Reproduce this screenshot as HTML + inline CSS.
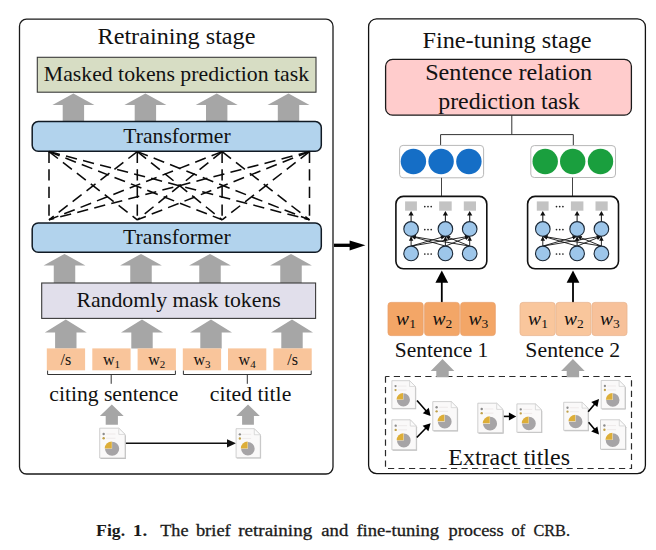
<!DOCTYPE html>
<html><head><meta charset="utf-8"><style>
html,body{margin:0;padding:0;background:#fff;}
svg{display:block;font-family:"Liberation Serif",serif;}
</style></head><body>
<svg width="656" height="550" viewBox="0 0 656 550">
<defs><symbol id="doc" viewBox="0 0 26 31" overflow="visible">
<path d="M1.3,1.3 H19.6 L26.3,8.0 V31.1 H1.3 Z" fill="#a9a9a9" opacity="0.75"/>
<path d="M0.5,0.5 H19.3 L25.5,6.7 V30.2 H0.5 Z" fill="#FAF9F9" stroke="#c4c4c4" stroke-width="0.8"/>
<path d="M19.3,0.5 V6.7 H25.5 Z" fill="#fbfbfb" stroke="#cdcdcd" stroke-width="0.7"/>
<circle cx="4.4" cy="6.3" r="1.2" fill="#8c8c8c"/>
<circle cx="4.4" cy="10.5" r="1.2" fill="#BFA04a"/>
<line x1="7" y1="6.3" x2="16" y2="6.3" stroke="#ebe6e6" stroke-width="0.8"/>
<line x1="7" y1="10.5" x2="16" y2="10.5" stroke="#ebe6e6" stroke-width="0.8"/>
<path d="M12.7,21.0 L12.7,14.0 A7,7 0 1 1 5.7,21.0 Z" fill="#A6A4A6"/>
<path d="M12.4,20.7 L5.4,20.7 A7,7 0 0 1 12.4,13.7 Z" fill="#DDAE38"/>
</symbol></defs>
<rect width="656" height="550" fill="#fff"/>
<rect x="19.50" y="19.20" width="313.50" height="454.80" rx="7" fill="none" stroke="#1a1a1a" stroke-width="1.3" />
<rect x="368.60" y="18.80" width="276.80" height="454.80" rx="8" fill="none" stroke="#111" stroke-width="1.3" />
<rect x="37.30" y="57.30" width="278.70" height="34.90" rx="0" fill="#D7DDC4" stroke="#3a3a3a" stroke-width="1.1" />
<polygon points="73.40,93.40 94.40,104.90 84.10,104.90 84.10,121.80 62.70,121.80 62.70,104.90 52.40,104.90" fill="#A6A6A6" />
<polygon points="145.40,93.40 166.40,104.90 156.10,104.90 156.10,121.80 134.70,121.80 134.70,104.90 124.40,104.90" fill="#A6A6A6" />
<polygon points="216.70,93.40 237.70,104.90 227.40,104.90 227.40,121.80 206.00,121.80 206.00,104.90 195.70,104.90" fill="#A6A6A6" />
<polygon points="288.50,93.40 309.50,104.90 299.20,104.90 299.20,121.80 277.80,121.80 277.80,104.90 267.50,104.90" fill="#A6A6A6" />
<rect x="32.20" y="121.60" width="289.10" height="29.60" rx="6" fill="#B2D3ED" stroke="#111a24" stroke-width="1.5" />
<rect x="32.20" y="222.90" width="289.10" height="29.40" rx="6" fill="#B2D3ED" stroke="#111a24" stroke-width="1.5" />
<line x1="49.00" y1="151.60" x2="49.00" y2="219.80" stroke="#0a0a0a" stroke-width="1.55" stroke-dasharray="11.3 6.3"/>
<line x1="49.00" y1="151.60" x2="137.30" y2="219.80" stroke="#0a0a0a" stroke-width="1.55" stroke-dasharray="11.3 6.3"/>
<line x1="49.00" y1="151.60" x2="222.10" y2="219.80" stroke="#0a0a0a" stroke-width="1.55" stroke-dasharray="11.3 6.3"/>
<line x1="49.00" y1="151.60" x2="309.50" y2="219.80" stroke="#0a0a0a" stroke-width="1.55" stroke-dasharray="11.3 6.3"/>
<line x1="137.30" y1="151.60" x2="49.00" y2="219.80" stroke="#0a0a0a" stroke-width="1.55" stroke-dasharray="11.3 6.3"/>
<line x1="137.30" y1="151.60" x2="137.30" y2="219.80" stroke="#0a0a0a" stroke-width="1.55" stroke-dasharray="11.3 6.3"/>
<line x1="137.30" y1="151.60" x2="222.10" y2="219.80" stroke="#0a0a0a" stroke-width="1.55" stroke-dasharray="11.3 6.3"/>
<line x1="137.30" y1="151.60" x2="309.50" y2="219.80" stroke="#0a0a0a" stroke-width="1.55" stroke-dasharray="11.3 6.3"/>
<line x1="222.10" y1="151.60" x2="49.00" y2="219.80" stroke="#0a0a0a" stroke-width="1.55" stroke-dasharray="11.3 6.3"/>
<line x1="222.10" y1="151.60" x2="137.30" y2="219.80" stroke="#0a0a0a" stroke-width="1.55" stroke-dasharray="11.3 6.3"/>
<line x1="222.10" y1="151.60" x2="222.10" y2="219.80" stroke="#0a0a0a" stroke-width="1.55" stroke-dasharray="11.3 6.3"/>
<line x1="222.10" y1="151.60" x2="309.50" y2="219.80" stroke="#0a0a0a" stroke-width="1.55" stroke-dasharray="11.3 6.3"/>
<line x1="309.50" y1="151.60" x2="49.00" y2="219.80" stroke="#0a0a0a" stroke-width="1.55" stroke-dasharray="11.3 6.3"/>
<line x1="309.50" y1="151.60" x2="137.30" y2="219.80" stroke="#0a0a0a" stroke-width="1.55" stroke-dasharray="11.3 6.3"/>
<line x1="309.50" y1="151.60" x2="222.10" y2="219.80" stroke="#0a0a0a" stroke-width="1.55" stroke-dasharray="11.3 6.3"/>
<line x1="309.50" y1="151.60" x2="309.50" y2="219.80" stroke="#0a0a0a" stroke-width="1.55" stroke-dasharray="11.3 6.3"/>
<polygon points="64.50,253.90 85.40,265.60 75.25,265.60 75.25,283.40 53.75,283.40 53.75,265.60 43.60,265.60" fill="#A6A6A6" />
<polygon points="141.00,253.90 161.90,265.60 151.75,265.60 151.75,283.40 130.25,283.40 130.25,265.60 120.10,265.60" fill="#A6A6A6" />
<polygon points="210.00,253.90 230.90,265.60 220.75,265.60 220.75,283.40 199.25,283.40 199.25,265.60 189.10,265.60" fill="#A6A6A6" />
<polygon points="291.00,253.90 311.90,265.60 301.75,265.60 301.75,283.40 280.25,283.40 280.25,265.60 270.10,265.60" fill="#A6A6A6" />
<rect x="41.70" y="283.00" width="273.90" height="35.40" rx="0" fill="#E1DFEB" stroke="#3a3a3a" stroke-width="1.1" />
<polygon points="65.80,319.60 86.80,332.40 76.50,332.40 76.50,348.60 55.10,348.60 55.10,332.40 44.80,332.40" fill="#A6A6A6" />
<polygon points="142.00,319.60 163.00,332.40 152.70,332.40 152.70,348.60 131.30,348.60 131.30,332.40 121.00,332.40" fill="#A6A6A6" />
<polygon points="211.00,319.60 232.00,332.40 221.70,332.40 221.70,348.60 200.30,348.60 200.30,332.40 190.00,332.40" fill="#A6A6A6" />
<polygon points="292.00,319.60 313.00,332.40 302.70,332.40 302.70,348.60 281.30,348.60 281.30,332.40 271.00,332.40" fill="#A6A6A6" />
<rect x="46.80" y="348.40" width="38.30" height="21.90" rx="0" fill="#F9C59B" stroke="none" stroke-width="1" />
<rect x="92.30" y="348.40" width="38.30" height="21.90" rx="0" fill="#F9C59B" stroke="none" stroke-width="1" />
<rect x="137.60" y="348.40" width="38.30" height="21.90" rx="0" fill="#F9C59B" stroke="none" stroke-width="1" />
<rect x="182.80" y="348.40" width="38.30" height="21.90" rx="0" fill="#F9C59B" stroke="none" stroke-width="1" />
<rect x="228.00" y="348.40" width="38.30" height="21.90" rx="0" fill="#F9C59B" stroke="none" stroke-width="1" />
<rect x="273.40" y="348.40" width="38.30" height="21.90" rx="0" fill="#F9C59B" stroke="none" stroke-width="1" />
<path d="M47.6,370.6 V374.5 H175.4 V370.6 M111.2,374.5 V383.8" fill="none" stroke="#333" stroke-width="1"/>
<path d="M183.4,370.6 V374.5 H311.2 V370.6 M247.3,374.5 V383.8" fill="none" stroke="#333" stroke-width="1"/>
<polygon points="111.80,404.50 123.70,415.90 117.90,415.90 117.90,424.80 105.70,424.80 105.70,415.90 99.90,415.90" fill="#A6A6A6" />
<polygon points="248.00,404.50 259.80,415.90 253.90,415.90 253.90,424.80 242.10,424.80 242.10,415.90 236.20,415.90" fill="#A6A6A6" />
<line x1="125.60" y1="443.30" x2="228.50" y2="443.30" stroke="#111" stroke-width="1.6" />
<polygon points="236.00,443.30 227.00,439.20 227.00,447.40" fill="#111" />
<line x1="334.00" y1="245.30" x2="351.00" y2="245.30" stroke="#000" stroke-width="3.3" />
<polygon points="365.40,245.30 349.60,240.40 349.60,250.60" fill="#000" />
<rect x="385.60" y="59.30" width="245.80" height="55.90" rx="7" fill="#FFCCCC" stroke="#1a1a1a" stroke-width="1.3" />
<path d="M511.8,115.2 V134.6 M440.6,145.5 V134.6 H573.3 V145.5" fill="none" stroke="#333" stroke-width="1"/>
<rect x="399.60" y="145.40" width="84.00" height="32.40" rx="3.5" fill="#fff" stroke="#b8b8b8" stroke-width="1" />
<circle cx="413.4" cy="161.5" r="12.7" fill="#156EC6"/>
<circle cx="441.1" cy="161.5" r="12.7" fill="#156EC6"/>
<circle cx="468.9" cy="161.5" r="12.7" fill="#156EC6"/>
<rect x="530.80" y="145.60" width="84.70" height="31.90" rx="3.5" fill="#fff" stroke="#b8b8b8" stroke-width="1" />
<circle cx="545.2" cy="161.5" r="12.7" fill="#1A9F3E"/>
<circle cx="572.7" cy="161.5" r="12.7" fill="#1A9F3E"/>
<circle cx="600.5" cy="161.5" r="12.7" fill="#1A9F3E"/>
<line x1="441.50" y1="177.80" x2="441.50" y2="196.40" stroke="#444" stroke-width="1" />
<line x1="572.50" y1="177.50" x2="572.50" y2="196.40" stroke="#444" stroke-width="1" />
<rect x="395.90" y="196.40" width="90.90" height="72.40" rx="7.5" fill="#fff" stroke="#111" stroke-width="1.6" />
<rect x="405.10" y="201.40" width="11.80" height="9.30" rx="0" fill="#C3C3C3" stroke="none" stroke-width="1" />
<rect x="439.20" y="201.40" width="12.50" height="9.30" rx="0" fill="#C3C3C3" stroke="none" stroke-width="1" />
<rect x="463.80" y="201.40" width="12.20" height="9.30" rx="0" fill="#C3C3C3" stroke="none" stroke-width="1" />
<line x1="411.10" y1="221.60" x2="411.10" y2="214.50" stroke="#222" stroke-width="1.1" />
<polygon points="411.10,210.90 408.50,215.50 413.70,215.50" fill="#111" />
<line x1="445.40" y1="221.60" x2="445.40" y2="214.50" stroke="#222" stroke-width="1.1" />
<polygon points="445.40,210.90 442.80,215.50 448.00,215.50" fill="#111" />
<line x1="469.70" y1="221.60" x2="469.70" y2="214.50" stroke="#222" stroke-width="1.1" />
<polygon points="469.70,210.90 467.10,215.50 472.30,215.50" fill="#111" />
<line x1="411.10" y1="246.10" x2="411.10" y2="236.20" stroke="#111" stroke-width="0.9" />
<line x1="411.10" y1="246.10" x2="445.40" y2="236.20" stroke="#111" stroke-width="0.9" />
<line x1="411.10" y1="246.10" x2="469.70" y2="236.20" stroke="#111" stroke-width="0.9" />
<line x1="445.40" y1="246.10" x2="411.10" y2="236.20" stroke="#111" stroke-width="0.9" />
<line x1="445.40" y1="246.10" x2="445.40" y2="236.20" stroke="#111" stroke-width="0.9" />
<line x1="445.40" y1="246.10" x2="469.70" y2="236.20" stroke="#111" stroke-width="0.9" />
<line x1="469.70" y1="246.10" x2="411.10" y2="236.20" stroke="#111" stroke-width="0.9" />
<line x1="469.70" y1="246.10" x2="445.40" y2="236.20" stroke="#111" stroke-width="0.9" />
<line x1="469.70" y1="246.10" x2="469.70" y2="236.20" stroke="#111" stroke-width="0.9" />
<polygon points="411.10,236.20 413.30,240.80 408.90,240.80" fill="#111" />
<polygon points="445.40,236.20 441.59,239.59 440.37,235.36" fill="#111" />
<polygon points="469.70,236.20 465.53,239.14 464.80,234.80" fill="#111" />
<polygon points="411.10,236.20 416.13,235.36 414.91,239.59" fill="#111" />
<polygon points="445.40,236.20 447.60,240.80 443.20,240.80" fill="#111" />
<polygon points="469.70,236.20 466.27,239.97 464.61,235.90" fill="#111" />
<polygon points="411.10,236.20 416.00,234.80 415.27,239.14" fill="#111" />
<polygon points="445.40,236.20 450.49,235.90 448.83,239.97" fill="#111" />
<polygon points="469.70,236.20 471.90,240.80 467.50,240.80" fill="#111" />
<circle cx="411.10" cy="228.9" r="7.3" fill="#9DC6EA" stroke="#1b2836" stroke-width="1.1"/>
<circle cx="411.10" cy="253.4" r="7.3" fill="#9DC6EA" stroke="#1b2836" stroke-width="1.1"/>
<circle cx="445.40" cy="228.9" r="7.3" fill="#9DC6EA" stroke="#1b2836" stroke-width="1.1"/>
<circle cx="445.40" cy="253.4" r="7.3" fill="#9DC6EA" stroke="#1b2836" stroke-width="1.1"/>
<circle cx="469.70" cy="228.9" r="7.3" fill="#9DC6EA" stroke="#1b2836" stroke-width="1.1"/>
<circle cx="469.70" cy="253.4" r="7.3" fill="#9DC6EA" stroke="#1b2836" stroke-width="1.1"/>
<circle cx="424.80" cy="206.6" r="0.85" fill="#222"/>
<circle cx="428.00" cy="206.6" r="0.85" fill="#222"/>
<circle cx="431.20" cy="206.6" r="0.85" fill="#222"/>
<circle cx="424.80" cy="229.6" r="0.85" fill="#222"/>
<circle cx="428.00" cy="229.6" r="0.85" fill="#222"/>
<circle cx="431.20" cy="229.6" r="0.85" fill="#222"/>
<circle cx="424.80" cy="254.0" r="0.85" fill="#222"/>
<circle cx="428.00" cy="254.0" r="0.85" fill="#222"/>
<circle cx="431.20" cy="254.0" r="0.85" fill="#222"/>
<rect x="527.60" y="196.40" width="90.90" height="72.40" rx="7.5" fill="#fff" stroke="#111" stroke-width="1.6" />
<rect x="536.80" y="201.40" width="11.80" height="9.30" rx="0" fill="#C3C3C3" stroke="none" stroke-width="1" />
<rect x="570.90" y="201.40" width="12.50" height="9.30" rx="0" fill="#C3C3C3" stroke="none" stroke-width="1" />
<rect x="595.50" y="201.40" width="12.20" height="9.30" rx="0" fill="#C3C3C3" stroke="none" stroke-width="1" />
<line x1="542.80" y1="221.60" x2="542.80" y2="214.50" stroke="#222" stroke-width="1.1" />
<polygon points="542.80,210.90 540.20,215.50 545.40,215.50" fill="#111" />
<line x1="577.10" y1="221.60" x2="577.10" y2="214.50" stroke="#222" stroke-width="1.1" />
<polygon points="577.10,210.90 574.50,215.50 579.70,215.50" fill="#111" />
<line x1="601.40" y1="221.60" x2="601.40" y2="214.50" stroke="#222" stroke-width="1.1" />
<polygon points="601.40,210.90 598.80,215.50 604.00,215.50" fill="#111" />
<line x1="542.80" y1="246.10" x2="542.80" y2="236.20" stroke="#111" stroke-width="0.9" />
<line x1="542.80" y1="246.10" x2="577.10" y2="236.20" stroke="#111" stroke-width="0.9" />
<line x1="542.80" y1="246.10" x2="601.40" y2="236.20" stroke="#111" stroke-width="0.9" />
<line x1="577.10" y1="246.10" x2="542.80" y2="236.20" stroke="#111" stroke-width="0.9" />
<line x1="577.10" y1="246.10" x2="577.10" y2="236.20" stroke="#111" stroke-width="0.9" />
<line x1="577.10" y1="246.10" x2="601.40" y2="236.20" stroke="#111" stroke-width="0.9" />
<line x1="601.40" y1="246.10" x2="542.80" y2="236.20" stroke="#111" stroke-width="0.9" />
<line x1="601.40" y1="246.10" x2="577.10" y2="236.20" stroke="#111" stroke-width="0.9" />
<line x1="601.40" y1="246.10" x2="601.40" y2="236.20" stroke="#111" stroke-width="0.9" />
<polygon points="542.80,236.20 545.00,240.80 540.60,240.80" fill="#111" />
<polygon points="577.10,236.20 573.29,239.59 572.07,235.36" fill="#111" />
<polygon points="601.40,236.20 597.23,239.14 596.50,234.80" fill="#111" />
<polygon points="542.80,236.20 547.83,235.36 546.61,239.59" fill="#111" />
<polygon points="577.10,236.20 579.30,240.80 574.90,240.80" fill="#111" />
<polygon points="601.40,236.20 597.97,239.97 596.31,235.90" fill="#111" />
<polygon points="542.80,236.20 547.70,234.80 546.97,239.14" fill="#111" />
<polygon points="577.10,236.20 582.19,235.90 580.53,239.97" fill="#111" />
<polygon points="601.40,236.20 603.60,240.80 599.20,240.80" fill="#111" />
<circle cx="542.80" cy="228.9" r="7.3" fill="#9DC6EA" stroke="#1b2836" stroke-width="1.1"/>
<circle cx="542.80" cy="253.4" r="7.3" fill="#9DC6EA" stroke="#1b2836" stroke-width="1.1"/>
<circle cx="577.10" cy="228.9" r="7.3" fill="#9DC6EA" stroke="#1b2836" stroke-width="1.1"/>
<circle cx="577.10" cy="253.4" r="7.3" fill="#9DC6EA" stroke="#1b2836" stroke-width="1.1"/>
<circle cx="601.40" cy="228.9" r="7.3" fill="#9DC6EA" stroke="#1b2836" stroke-width="1.1"/>
<circle cx="601.40" cy="253.4" r="7.3" fill="#9DC6EA" stroke="#1b2836" stroke-width="1.1"/>
<circle cx="556.50" cy="206.6" r="0.85" fill="#222"/>
<circle cx="559.70" cy="206.6" r="0.85" fill="#222"/>
<circle cx="562.90" cy="206.6" r="0.85" fill="#222"/>
<circle cx="556.50" cy="229.6" r="0.85" fill="#222"/>
<circle cx="559.70" cy="229.6" r="0.85" fill="#222"/>
<circle cx="562.90" cy="229.6" r="0.85" fill="#222"/>
<circle cx="556.50" cy="254.0" r="0.85" fill="#222"/>
<circle cx="559.70" cy="254.0" r="0.85" fill="#222"/>
<circle cx="562.90" cy="254.0" r="0.85" fill="#222"/>
<line x1="441.80" y1="302.40" x2="441.80" y2="281.00" stroke="#000" stroke-width="1.8" />
<polygon points="441.80,270.40 435.40,282.80 448.20,282.80" fill="#000" />
<line x1="573.00" y1="302.40" x2="573.00" y2="281.00" stroke="#000" stroke-width="1.8" />
<polygon points="573.00,270.40 566.60,282.80 579.40,282.80" fill="#000" />
<rect x="388.00" y="302.40" width="35.20" height="33.20" rx="3" fill="#F3A667" stroke="#E9A06A" stroke-width="0.8" />
<rect x="424.60" y="302.40" width="34.80" height="33.20" rx="3" fill="#F3A667" stroke="#E9A06A" stroke-width="0.8" />
<rect x="460.60" y="302.40" width="34.70" height="33.20" rx="3" fill="#F3A667" stroke="#E9A06A" stroke-width="0.8" />
<rect x="520.00" y="302.40" width="35.20" height="33.20" rx="3" fill="#F9C69C" stroke="#E8B590" stroke-width="0.8" />
<rect x="556.00" y="302.40" width="35.00" height="33.20" rx="3" fill="#F9C69C" stroke="#E8B590" stroke-width="0.8" />
<rect x="592.00" y="302.40" width="35.00" height="33.20" rx="3" fill="#F7C19A" stroke="#E8B590" stroke-width="0.8" />
<rect x="385.50" y="376.50" width="246.00" height="92.00" rx="0" fill="none" stroke="#2a2a2a" stroke-width="1.2" stroke-dasharray="6.2 4.3" stroke-dashoffset="2.2"/>
<polygon points="442.50,359.10 454.30,370.90 448.70,370.90 448.70,377.20 436.30,377.20 436.30,370.90 430.70,370.90" fill="#A6A6A6" />
<polygon points="572.90,359.10 584.70,370.90 579.10,370.90 579.10,377.20 566.70,377.20 566.70,370.90 561.10,370.90" fill="#A6A6A6" />
<use href="#doc" width="26" height="31" transform="translate(99.2,427.7) scale(1.0154,1.0032)"/>
<use href="#doc" width="26" height="31" transform="translate(235.6,428.2) scale(0.9692,0.9774)"/>
<use href="#doc" width="26" height="31" transform="translate(391.4,380.2) scale(0.9423,0.9355)"/>
<use href="#doc" width="26" height="31" transform="translate(391.4,419.3) scale(0.9769,1.0097)"/>
<use href="#doc" width="26" height="31" transform="translate(432.3,401.1) scale(0.9808,0.9774)"/>
<use href="#doc" width="26" height="31" transform="translate(477.3,402.7) scale(1.0038,0.9968)"/>
<use href="#doc" width="26" height="31" transform="translate(516.4,403.4) scale(0.9846,0.9548)"/>
<use href="#doc" width="26" height="31" transform="translate(563.2,401.8) scale(0.9769,0.9452)"/>
<use href="#doc" width="26" height="31" transform="translate(600.7,380.0) scale(0.9538,0.9516)"/>
<use href="#doc" width="26" height="31" transform="translate(600.0,419.3) scale(1.0000,0.9903)"/>
<line x1="417.00" y1="400.50" x2="426.44" y2="411.26" stroke="#000" stroke-width="1.6" />
<polygon points="430.60,416.00 422.78,413.15 428.79,407.87" fill="#000" />
<line x1="416.80" y1="437.50" x2="426.23" y2="427.73" stroke="#000" stroke-width="1.6" />
<polygon points="430.60,423.20 428.41,431.23 422.65,425.68" fill="#000" />
<line x1="503.90" y1="416.40" x2="509.90" y2="416.40" stroke="#000" stroke-width="1.6" />
<polygon points="516.20,416.40 508.90,420.40 508.90,412.40" fill="#000" />
<line x1="588.20" y1="411.80" x2="594.96" y2="403.73" stroke="#000" stroke-width="1.6" />
<polygon points="599.00,398.90 597.38,407.07 591.25,401.93" fill="#000" />
<line x1="588.60" y1="422.30" x2="594.93" y2="429.79" stroke="#000" stroke-width="1.6" />
<polygon points="599.00,434.60 591.23,431.61 597.34,426.44" fill="#000" />
<text x="97.50" y="44.00" font-size="24" fill="#111" textLength="157.96" lengthAdjust="spacingAndGlyphs">Retraining stage</text>
<text x="43.80" y="81.30" font-size="21" fill="#111" textLength="265.28" lengthAdjust="spacingAndGlyphs">Masked tokens prediction task</text>
<text x="123.30" y="143.00" font-size="21.2" fill="#111" textLength="107.36" lengthAdjust="spacingAndGlyphs">Transformer</text>
<text x="123.10" y="244.40" font-size="21.2" fill="#111" textLength="107.56" lengthAdjust="spacingAndGlyphs">Transformer</text>
<text x="76.40" y="307.30" font-size="21.2" fill="#111" textLength="204.35" lengthAdjust="spacingAndGlyphs">Randomly mask tokens</text>
<text x="49.30" y="400.90" font-size="21.4" fill="#111" textLength="129.00" lengthAdjust="spacingAndGlyphs">citing sentence</text>
<text x="209.80" y="400.90" font-size="21.4" fill="#111" textLength="81.50" lengthAdjust="spacingAndGlyphs">cited title</text>
<text x="422.50" y="48.00" font-size="24" fill="#111" textLength="169.06" lengthAdjust="spacingAndGlyphs">Fine-tuning stage</text>
<text x="425.19" y="80.00" font-size="24" fill="#111" textLength="167.01" lengthAdjust="spacingAndGlyphs">Sentence relation</text>
<text x="438.20" y="109.40" font-size="24" fill="#111" textLength="141.40" lengthAdjust="spacingAndGlyphs">prediction task</text>
<text x="394.89" y="356.50" font-size="21.3" fill="#111" textLength="93.36" lengthAdjust="spacingAndGlyphs">Sentence 1</text>
<text x="525.38" y="356.50" font-size="21.3" fill="#111" textLength="94.88" lengthAdjust="spacingAndGlyphs">Sentence 2</text>
<text x="448.30" y="464.80" font-size="23.6" fill="#111" textLength="121.68" lengthAdjust="spacingAndGlyphs">Extract titles</text>
<text x="96.10" y="535.60" font-size="17" font-weight="bold" fill="#1a1a1a" textLength="29.06" lengthAdjust="spacingAndGlyphs">Fig.</text>
<text x="132.87" y="535.60" font-size="17" font-weight="bold" fill="#1a1a1a" textLength="14.41" lengthAdjust="spacingAndGlyphs">1.</text>
<text x="160.20" y="535.60" font-size="17" fill="#1a1a1a" textLength="28.28" lengthAdjust="spacingAndGlyphs" stroke="#1a1a1a" stroke-width="0.3">The</text>
<text x="195.90" y="535.60" font-size="17" fill="#1a1a1a" textLength="34.83" lengthAdjust="spacingAndGlyphs" stroke="#1a1a1a" stroke-width="0.3">brief</text>
<text x="238.30" y="535.60" font-size="17" fill="#1a1a1a" textLength="73.84" lengthAdjust="spacingAndGlyphs" stroke="#1a1a1a" stroke-width="0.3">retraining</text>
<text x="321.30" y="535.60" font-size="17" fill="#1a1a1a" textLength="26.95" lengthAdjust="spacingAndGlyphs" stroke="#1a1a1a" stroke-width="0.3">and</text>
<text x="356.40" y="535.60" font-size="17" fill="#1a1a1a" textLength="82.65" lengthAdjust="spacingAndGlyphs" stroke="#1a1a1a" stroke-width="0.3">fine-tuning</text>
<text x="448.50" y="535.60" font-size="17" fill="#1a1a1a" textLength="55.17" lengthAdjust="spacingAndGlyphs" stroke="#1a1a1a" stroke-width="0.3">process</text>
<text x="511.50" y="535.60" font-size="17" fill="#1a1a1a" textLength="13.58" lengthAdjust="spacingAndGlyphs" stroke="#1a1a1a" stroke-width="0.3">of</text>
<text x="533.50" y="535.60" font-size="17" fill="#1a1a1a" textLength="36.44" lengthAdjust="spacingAndGlyphs" stroke="#1a1a1a" stroke-width="0.3">CRB.</text>
<text x="65.95" y="365.0" font-size="16" text-anchor="middle" fill="#111">/s</text>
<text x="111.45" y="365.0" font-size="16" text-anchor="middle" fill="#111"><tspan>w</tspan><tspan font-size="11" dy="2.7">1</tspan></text>
<text x="156.75" y="365.0" font-size="16" text-anchor="middle" fill="#111"><tspan>w</tspan><tspan font-size="11" dy="2.7">2</tspan></text>
<text x="201.95" y="365.0" font-size="16" text-anchor="middle" fill="#111"><tspan>w</tspan><tspan font-size="11" dy="2.7">3</tspan></text>
<text x="247.15" y="365.0" font-size="16" text-anchor="middle" fill="#111"><tspan>w</tspan><tspan font-size="11" dy="2.7">4</tspan></text>
<text x="292.55" y="365.0" font-size="16" text-anchor="middle" fill="#111">/s</text>
<text x="406.00" y="325.2" font-size="19.5" text-anchor="middle" fill="#111"><tspan font-style="italic">w</tspan><tspan font-size="13.5" dy="2.9">1</tspan></text>
<text x="442.40" y="325.2" font-size="19.5" text-anchor="middle" fill="#111"><tspan font-style="italic">w</tspan><tspan font-size="13.5" dy="2.9">2</tspan></text>
<text x="478.35" y="325.2" font-size="19.5" text-anchor="middle" fill="#111"><tspan font-style="italic">w</tspan><tspan font-size="13.5" dy="2.9">3</tspan></text>
<text x="538.00" y="325.2" font-size="19.5" text-anchor="middle" fill="#111"><tspan font-style="italic">w</tspan><tspan font-size="13.5" dy="2.9">1</tspan></text>
<text x="573.90" y="325.2" font-size="19.5" text-anchor="middle" fill="#111"><tspan font-style="italic">w</tspan><tspan font-size="13.5" dy="2.9">2</tspan></text>
<text x="609.90" y="325.2" font-size="19.5" text-anchor="middle" fill="#111"><tspan font-style="italic">w</tspan><tspan font-size="13.5" dy="2.9">3</tspan></text>
</svg>
</body></html>
